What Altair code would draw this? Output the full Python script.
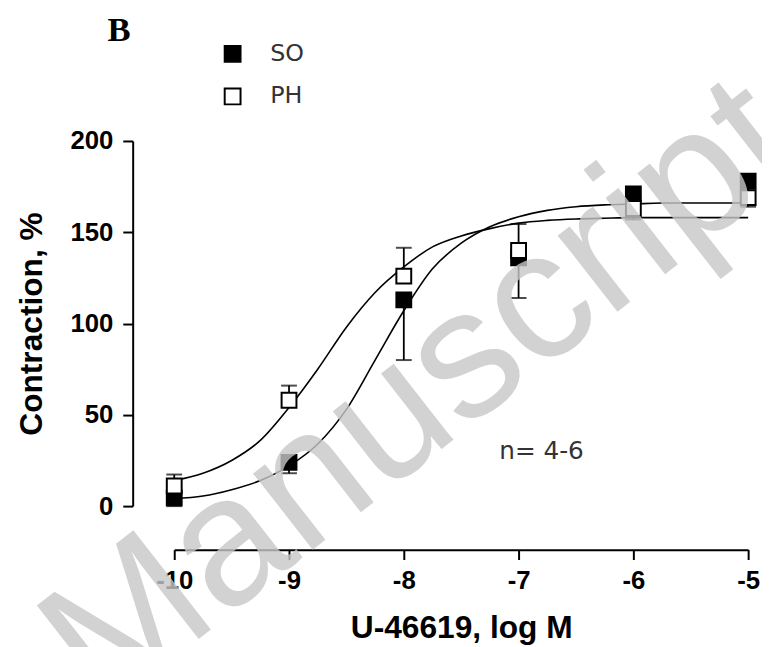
import altair as alt
import pandas as pd

# ---- data ----
log_dose = [-10, -9, -8, -7, -6, -5]
so_mean = [4.5, 24, 113, 136, 171, 178]
so_sem = [4.5, 6, 33, 22, 14, 14]
ph_mean = [11, 58, 126, 140, 163, 169]
ph_sem = [6.3, 8, 15.5, 14.5, 5, 5]

curve_x = [-10, -9.75, -9.5, -9.25, -9, -8.75, -8.5, -8.25, -8, -7.75, -7.5,
           -7.25, -7, -6.75, -6.5, -6.25, -6, -5.75, -5.5, -5.25, -5]
so_curve = [4, 5.5, 9, 14, 22, 34, 53, 80, 107, 130, 144,
            153, 158.5, 162, 164, 165, 165.5, 166, 166, 166, 166]
ph_curve = [14, 18, 25, 36, 54, 75, 98, 117, 131, 142, 148,
            152, 155, 156.5, 157.3, 157.7, 158, 158, 158, 158, 158]

series_names = ["SO", "PH"]
x_ticks = [-10, -9, -8, -7, -6, -5]
y_ticks = [0, 50, 100, 150, 200]
x_title = "U-46619, log M"
y_title = "Contraction, %"
panel_label = ["B"]
panel_x = [-10.48]
panel_y = [255]
note_text = ["n= 4-6"]
note_x = [-6.8]
note_y = [30]
watermark_text = ["Manuscript"]
watermark_x = [-7.85]
watermark_y = [61]

# ---- tables ----
pts_rows = []
for d, m, s in zip(log_dose, so_mean, so_sem):
    pts_rows.append({"dose": d, "value": m, "series": "SO", "lo": m - s, "hi": m, "cap": m - s})
for d, m, s in zip(log_dose, ph_mean, ph_sem):
    pts_rows.append({"dose": d, "value": m, "series": "PH", "lo": m, "hi": m + s, "cap": m + s})
pts = pd.DataFrame(pts_rows)

curve = pd.DataFrame(
    [{"dose": x, "value": v, "series": "SO"} for x, v in zip(curve_x, so_curve)]
    + [{"dose": x, "value": v, "series": "PH"} for x, v in zip(curve_x, ph_curve)]
)
note = pd.DataFrame({"dose": note_x, "value": note_y, "t": note_text})
panel = pd.DataFrame({"dose": panel_x, "value": panel_y, "t": panel_label})
wm = pd.DataFrame({"dose": watermark_x, "value": watermark_y, "t": watermark_text})

xscale = alt.Scale(domain=[-10, -5], nice=False, zero=False)
yscale = alt.Scale(domain=[0, 200], nice=False, zero=False)

x_axis = alt.Axis(values=x_ticks, title=x_title, offset=44, labelPadding=8,
                  titlePadding=20, labelFlush=False, labelOverlap=False,
                  labelExpr="'' + datum.value")
y_axis = alt.Axis(values=y_ticks, title=y_title, offset=42, labelPadding=10,
                  titlePadding=22, labelFlush=False, labelOverlap=False)


def X(field):
    return alt.X(field, scale=xscale, axis=x_axis, title=x_title)


def Y(field):
    return alt.Y(field, scale=yscale, axis=y_axis, title=y_title)


lines = alt.Chart(curve).mark_line(color="black", strokeWidth=1.6, interpolate="monotone").encode(
    x=X("dose:Q"), y=Y("value:Q"), detail="series:N",
)

rules = alt.Chart(pts).mark_rule(color="black", strokeWidth=1.8).encode(
    x=X("dose:Q"), y=Y("lo:Q"), y2="hi:Q",
)

caps = alt.Chart(pts).mark_tick(color="black", thickness=2, size=16, orient="horizontal").encode(
    x=X("dose:Q"), y=Y("cap:Q"),
)

points = alt.Chart(pts).mark_point(shape="square", size=225, filled=True, stroke="black",
                                   strokeWidth=2, opacity=1).encode(
    x=X("dose:Q"), y=Y("value:Q"),
    fill=alt.Fill("series:N", scale=alt.Scale(domain=series_names, range=["black", "white"]),
                  legend=alt.Legend(title=None, orient="none", legendX=47, legendY=-100,
                                    symbolType="square", symbolSize=256,
                                    symbolStrokeColor="black", symbolStrokeWidth=2,
                                    labelFont="DejaVu Sans", labelFontSize=24, labelColor="#333",
                                    labelOffset=26, rowPadding=19, padding=0)),
    order=alt.Order("series:N", sort="descending"),
)

notes = alt.Chart(note).mark_text(font="DejaVu Sans", fontSize=25, color="#333",
                                  align="center", baseline="middle").encode(
    x=X("dose:Q"), y=Y("value:Q"), text="t:N",
)

panel_text = alt.Chart(panel).mark_text(font="Liberation Serif", fontSize=35, fontWeight="bold",
                                        color="black", align="center",
                                        baseline="alphabetic").encode(
    x=X("dose:Q"), y=Y("value:Q"), text="t:N",
)

watermark = alt.Chart(wm).mark_text(font="Liberation Sans", fontSize=185, color="#c8c8c8",
                                    opacity=0.8, angle=322, align="center",
                                    baseline="middle").encode(
    x=X("dose:Q"), y=Y("value:Q"), text="t:N",
)

chart = alt.layer(lines, rules, caps, points, notes, panel_text, watermark).properties(
    width=580,
    height=369,
    autosize=alt.AutoSizeParams(type="none"),
    padding={"left": 168, "top": 131, "right": 14, "bottom": 139},
).configure_view(stroke=None).configure_axis(
    domainColor="black", domainWidth=2, tickColor="black", tickWidth=2, tickSize=10,
    labelFont="Liberation Sans", labelFontWeight="bold", labelFontSize=26, labelColor="black",
    titleFont="Liberation Sans", titleFontWeight="bold", titleFontSize=32, titleColor="black",
    grid=False,
)

chart.save("out.html", embed_options={"renderer": "svg", "actions": False})
